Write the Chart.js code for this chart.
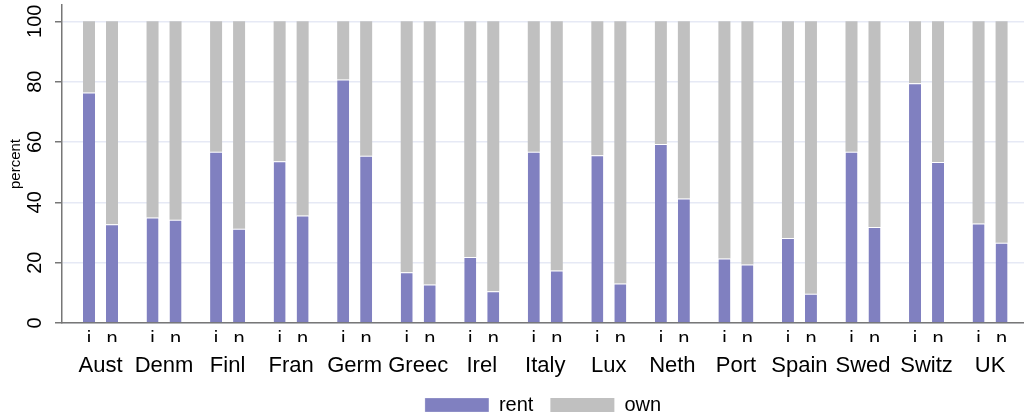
<!DOCTYPE html>
<html>
<head>
<meta charset="utf-8">
<script src="https://cdn.jsdelivr.net/npm/chart.js@4/dist/chart.umd.min.js"></script>
<style>
  html, body { margin: 0; padding: 0; background: #fff; }
</style>
</head>
<body>
<canvas id="graphique-logement" width="1024" height="418"></canvas>
<script>
// Pays (groupes) et sous-groupes
const pays = ["Aust", "Denm", "Finl", "Fran", "Germ", "Greec", "Irel", "Italy", "Lux", "Neth", "Port", "Spain", "Swed", "Switz", "UK"];
const sousGroupes = ["i", "n"];

// Pourcentages
const rentI = [76.4, 35.0, 56.8, 53.6, 80.7, 16.8, 21.9, 56.8, 55.6, 59.3, 21.4, 28.2, 56.8, 79.5, 33.0];
const ownI = [23.6, 65.0, 43.2, 46.4, 19.3, 83.2, 78.1, 43.2, 44.4, 40.7, 78.6, 71.8, 43.2, 20.5, 67.0];
const rentN = [32.7, 34.2, 31.2, 35.6, 55.4, 12.8, 10.5, 17.4, 13.1, 41.3, 19.4, 9.7, 31.8, 53.4, 26.6];
const ownN = [67.3, 65.8, 68.8, 64.4, 44.6, 87.2, 89.5, 82.6, 86.9, 58.7, 80.6, 90.3, 68.2, 46.6, 73.4];

// Graduations de l'axe des y
const yTicks = [0, 20, 40, 60, 80, 100];

const couleurRent = "#8080c0";
const couleurOwn = "#c0c0c0";

Chart.defaults.font.family = "'Liberation Sans', Arial, sans-serif";
Chart.defaults.color = "#000";

// points {x, y} pour l'axe x lineaire
const points = (valeurs) => valeurs.map((v, k) => ({ x: k, y: v }));

const xMin = -0.606;
const xMax = 14.534;
const decalage = 0.181;

const data = {
  datasets: [
    { label: "rent", data: points(rentI), stack: "i", backgroundColor: couleurRent,
      borderColor: "#fff", borderWidth: { top: 1, left: 0, right: 0, bottom: 0 } },
    { label: "own", data: points(ownI), stack: "i", backgroundColor: couleurOwn, borderWidth: 0 },
    { label: "rent", data: points(rentN), stack: "n", backgroundColor: couleurRent,
      borderColor: "#fff", borderWidth: { top: 1, left: 0, right: 0, bottom: 0 } },
    { label: "own", data: points(ownN), stack: "n", backgroundColor: couleurOwn, borderWidth: 0 },
  ],
};

const config = {
  type: "bar",
  data: data,
  options: {
    responsive: false,
    animation: false,
    devicePixelRatio: 1,
    categoryPercentage: 0.724,
    barPercentage: 0.522,
    layout: { padding: { top: 5, left: 0, right: 0, bottom: 0 } },
    plugins: {
      tooltip: { enabled: false },
      legend: {
        position: "bottom",
        fullSize: false,
        maxHeight: 40,
        labels: {
          boxWidth: 64,
          boxHeight: 14,
          padding: 17,
          font: { size: 20 },
          filter: (item) => item.datasetIndex < 2,
        },
      },
    },
    scales: {
      x: {
        type: "linear",
        position: "bottom",
        offset: false,
        weight: 1,
        min: xMin,
        max: xMax,
        grid: { display: false },
        border: { display: false },
        afterBuildTicks: (axis) => {
          axis.ticks = pays.map((p, k) => ({ value: k }));
        },
        ticks: {
          autoSkip: false,
          maxRotation: 0,
          minRotation: 0,
          padding: 3,
          font: { size: 22 },
          callback: (value) => pays[value],
        },
        afterFit: (axis) => {
          axis.height = 36;
          axis.paddingLeft = 0;
          axis.paddingRight = 0;
        },
      },
      x2: {
        type: "linear",
        position: "bottom",
        offset: false,
        weight: 0,
        min: xMin,
        max: xMax,
        bounds: "data",
        grid: { display: false, drawTicks: false },
        border: { display: true, color: "#777", width: 1.5 },
        afterBuildTicks: (axis) => {
          axis.ticks = pays.flatMap((p, k) => [{ value: k - decalage }, { value: k + decalage }]);
        },
        ticks: {
          autoSkip: false,
          maxRotation: 0,
          minRotation: 0,
          padding: 4,
          font: { size: 20 },
          callback: (value, index) => sousGroupes[index % 2],
        },
        afterFit: (axis) => {
          axis.height = 19;
          axis.paddingLeft = 0;
          axis.paddingRight = 0;
        },
      },
      y: {
        stacked: true,
        min: 0,
        max: 105.4,
        afterBuildTicks: (axis) => {
          axis.ticks = yTicks.map((v) => ({ value: v }));
        },
        grid: { color: "#e6e9f5", lineWidth: 1.5, tickLength: 7, tickColor: "#777", tickWidth: 1.5 },
        border: { display: true, color: "#777", width: 1.5 },
        ticks: {
          minRotation: 90,
          maxRotation: 90,
          crossAlign: "center",
          padding: 3,
          font: { size: 20 },
        },
        title: {
          display: true,
          text: "percent",
          font: { size: 15 },
          padding: { top: 7, bottom: 0 },
        },
        afterFit: (axis) => {
          axis.width = 62;
          axis.paddingTop = 0;
          axis.paddingBottom = 0;
        },
      },
    },
  },
};

new Chart(document.querySelector("#graphique-logement"), config);
</script>
</body>
</html>
